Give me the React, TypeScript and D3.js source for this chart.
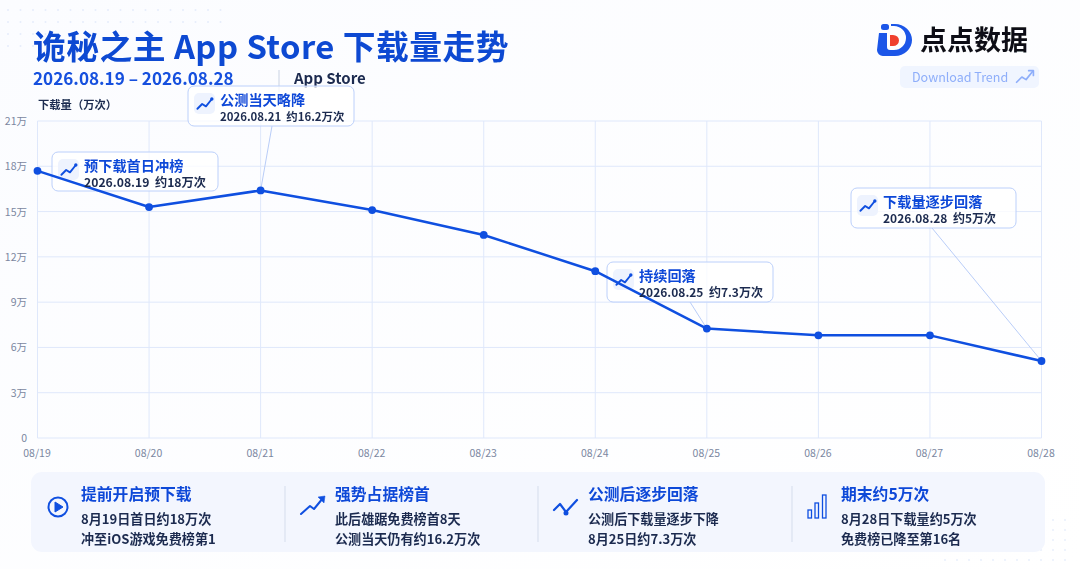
import React from "react";
import * as d3 from "d3";

const dates = ["08/19","08/20","08/21","08/22","08/23","08/24","08/25","08/26","08/27","08/28"];
const downloads = [17.7,15.3,16.4,15.1,13.45,11.05,7.25,6.8,6.8,5.1];
const yTicks = [0,3,6,9,12,15,18,21];
const yLabel = (v:number)=> v===0 ? "0" : `${v}万`;

const calloutTitles = ["预下载首日冲榜","公测当天略降","持续回落","下载量逐步回落"];
const calloutSubs = ["2026.08.19  约18万次","2026.08.21  约16.2万次","2026.08.25  约7.3万次","2026.08.28  约5万次"];
const calloutPointIndex = [0,2,6,9];

const cardTitles = ["提前开启预下载","强势占据榜首","公测后逐步回落","期末约5万次"];
const cardLine1 = ["8月19日首日约18万次","此后雄踞免费榜首8天","公测后下载量逐步下降","8月28日下载量约5万次"];
const cardLine2 = ["冲至iOS游戏免费榜第1","公测当天仍有约16.2万次","8月25日约7.3万次","免费榜已降至第16名"];

const W=1080,H=569;
const FONT='"Noto Sans CJK SC","Noto Sans",sans-serif';
const BLUE="#0f4fe0";
const x=d3.scaleLinear().domain([0,dates.length-1]).range([37.5,1041.5]);
const y=d3.scaleLinear().domain([0,21]).range([438,121]);
const line=d3.line<number>().x((_,i)=>x(i)).y(d=>y(d));

const boxes=[
 {x:52,y:152,w:166,h:39,sub:12.2,leader:null as null|[number,number]},
 {x:188,y:86,w:166,h:40,sub:11.4,leader:[272,126] as [number,number]},
 {x:607,y:262,w:166,h:40,sub:12,leader:[690,302] as [number,number]},
 {x:851,y:188,w:165,h:40,sub:12,leader:[932,228] as [number,number]},
];

function Trend({x:px,y:py,s=1,color=BLUE,w=2,head=false}:{x:number,y:number,s?:number,color?:string,w?:number,head?:boolean}){
  return <g transform={`translate(${px},${py}) scale(${s})`} fill="none" stroke={color} strokeWidth={w} strokeLinecap="round" strokeLinejoin="round">
    <path d="M-8,5 L-3,0 L1,2.5 L7,-5"/>
    {head && <path d="M3.5,-6 L8,-6 L8,-1.5"/>}
    {!head && <circle cx={7.2} cy={-5.2} r={0.8} fill={color}/>}
  </g>;
}

export default function App(){
  const dotsTL:[number,number][]=[];
  for(let r=0;r<4;r++)for(let c=0;c<(r===0?18:r===1?18:r===2?4:3);c++)dotsTL.push([8+c*12.5,10+r*12]);
  const dotsBR:[number,number][]=[];
  for(let r=0;r<5;r++)for(let c=0;c<(r<3?5:r===3?6:11);c++)dotsBR.push([1065-c*12,520+r*10]);
  return <svg width={W} height={H} viewBox={`0 0 ${W} ${H}`} style={{position:"absolute",left:0,top:0,fontFamily:FONT}}>
    <defs>
      <linearGradient id="bg" x1="0" y1="0" x2="1" y2="1"><stop offset="0" stopColor="#fbfcff"/><stop offset="1" stopColor="#ffffff"/></linearGradient>
      <filter id="soft" x="-5%" y="-5%" width="110%" height="110%"><feGaussianBlur stdDeviation="0.35"/></filter>
    </defs>
    <rect width={W} height={H} fill="url(#bg)"/>
    {dotsTL.map((d,i)=><circle key={i} cx={d[0]} cy={d[1]} r={1} fill="#e6edfb"/>)}
    {dotsBR.map((d,i)=><circle key={i} cx={d[0]} cy={d[1]} r={1} fill="#e9effb"/>)}

    <g filter="url(#soft)">
      <text x={33} y={58.5} fontSize={32.8} fontWeight={700} fill="#0b48d2" letterSpacing={0.45}>诡秘之主 App Store 下载量走势</text>
      <text x={33} y={85} fontSize={17.1} fontWeight={700} fill="#1450de">2026.08.19 – 2026.08.28</text>
      <line x1={279} x2={279} y1={70} y2={92} stroke="#c9d2e3"/>
      <text x={294} y={84} fontSize={15} fontWeight={700} fill="#1d2c50">App Store</text>
      <text x={38} y={109} fontSize={11.3} fontWeight={700} fill="#1d2c50">下载量（万次）</text>

      {/* logo */}
      <g>
        <rect x={881} y={24} width={8} height={6} rx={2.5} fill="#1a56e8"/>
        <path d="M879,33 h8 v14 a3,3 0 0 0 3,3 h4 a12,12 0 0 0 0,-24 h-3 v-2 h4 a17,16 0 0 1 0,32 h-12 a6,6 0 0 1 -6,-6 z" fill="#1a56e8"/>
        <path d="M890,35 h3 a6,5.5 0 0 1 0,11 h-3 z" fill="#f0402e"/>
      </g>
      <text x={920} y={50} fontSize={27} fontWeight={700} fill="#0d0f14">点点数据</text>
      <rect x={900} y={66} width={139} height={22} rx={5} fill="#f0f5ff"/>
      <text x={912} y={82} fontSize={12.5} fill="#8eaefa">Download Trend</text>
      <Trend x={1025} y={77} s={1.05} color="#8eaefa" w={1.6} head/>
    </g>

    {/* grid */}
    <g stroke="#dfe8fb" strokeWidth={1}>
      {yTicks.map(t=><line key={t} x1={x(0)} x2={x(9)} y1={y(t)} y2={y(t)}/>)}
      {dates.map((_,i)=><line key={i} x1={x(i)} x2={x(i)} y1={y(21)} y2={y(0)}/>)}
    </g>
    {yTicks.map(t=><text key={t} x={27} y={y(t)+4} textAnchor="end" fontSize={10.5} fill="#7b879f">{yLabel(t)}</text>)}
    {dates.map((d,i)=><text key={d} x={x(i)-0.5} y={457} textAnchor="middle" fontSize={10.5} fill="#7b879f">{d}</text>)}

    {/* leaders + boxes */}
    {boxes.map((b,i)=>b.leader && <line key={i} x1={b.leader[0]} y1={b.leader[1]} x2={x(calloutPointIndex[i])} y2={y(downloads[calloutPointIndex[i]])} stroke="#b9cdf8" strokeWidth={1}/>)}
    {boxes.map((b,i)=><g key={i}>
      <rect x={b.x} y={b.y} width={b.w} height={b.h} rx={6} fill="#ffffff" fillOpacity={0.78} stroke="#bcd0fb" strokeWidth={1}/>
      <rect x={b.x+6} y={b.y+7} width={21} height={21} rx={5} fill="#eef3fe"/>
      <Trend x={b.x+17} y={b.y+18} s={0.95}/>
    </g>)}

    <path d={line(downloads)!} fill="none" stroke={BLUE} strokeWidth={2.5} strokeLinejoin="round"/>
    {downloads.map((d,i)=><circle key={i} cx={x(i)} cy={y(d)} r={3.9} fill={BLUE}/>)}

    <g filter="url(#soft)">
      {boxes.map((b,i)=><g key={i}>
        <text x={b.x+32} y={b.y+19} fontSize={14.2} fontWeight={700} fill="#1148d8">{calloutTitles[i]}</text>
        <text x={b.x+32} y={b.y+34.5} fontSize={b.sub} fontWeight={700} fill="#1d2c50" style={{whiteSpace:"pre"}}>{calloutSubs[i]}</text>
      </g>)}
    </g>

    {/* bottom panel */}
    <rect x={31} y={472} width={1014} height={80} rx={11} fill="#f3f6fe"/>
    {[285,538,792].map(v=><line key={v} x1={v} x2={v} y1={486} y2={542} stroke="#d5ddec"/>)}
    <g fill="none" stroke="#0f4fe0" strokeWidth={2}>
      <circle cx={58} cy={507} r={9.5}/>
      <path d="M55,502 L63,507 L55,512 Z" fill="#0f4fe0" strokeWidth={1} strokeLinejoin="round"/>
      <path d="M301,514 L310,506 L314,509 L323,498" strokeLinecap="round" strokeLinejoin="round"/>
      <path d="M318,497 L325,496 L324,503 Z" fill="#0f4fe0" strokeWidth={0.5}/>
      <path d="M554,510 L560,504 L566,512 L577,500" strokeLinecap="round" strokeLinejoin="round" strokeWidth={2.2}/>
      <circle cx={566} cy={513} r={1.5} fill="#0f4fe0"/>
      <g strokeWidth={1.3}>
        <rect x={808} y={510} width={3.5} height={8}/>
        <rect x={815} y={503} width={3.5} height={15}/>
        <rect x={822.5} y={495} width={3.5} height={23}/>
      </g>
    </g>
    <g filter="url(#soft)">
      {cardTitles.map((t,i)=>{const tx=[81,335,588,841][i];return <g key={t}>
        <text x={tx} y={499.5} fontSize={15.8} fontWeight={700} fill="#1148d8">{t}</text>
        <text x={tx} y={524} fontSize={13.1} fontWeight={700} fill="#1d2c50">{cardLine1[i]}</text>
        <text x={tx} y={544} fontSize={13.1} fontWeight={700} fill="#1d2c50">{cardLine2[i]}</text>
      </g>;})}
    </g>
  </svg>;
}
